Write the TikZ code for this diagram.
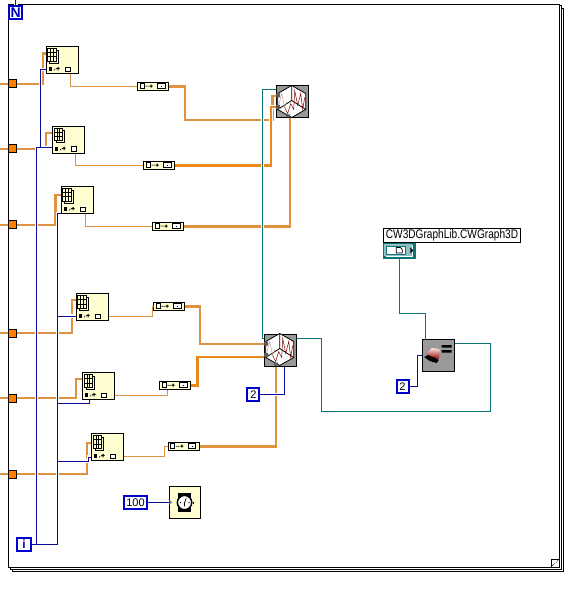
\documentclass[tikz,border=0pt]{standalone}
\usepackage{fontspec}
\setmainfont{Liberation Sans}
\newfontfamily\narrowfont[FakeStretch=0.81]{Liberation Sans}
\definecolor{cream}{HTML}{FFFFD2}
\definecolor{orangeA}{HTML}{EA8A1E}
\definecolor{orangeB}{HTML}{DF9340}
\definecolor{numblue}{HTML}{0C0C98}
\definecolor{tealw}{HTML}{0F7477}
\usetikzlibrary{arrows.meta,positioning}

\begin{document}
\begin{tikzpicture}[
  x=1pt,y=-1pt,
  font=\fontsize{11}{11}\selectfont,
  cell/.style={draw,line width=1pt,fill=cream,minimum width=32pt,minimum height=26.5pt,inner sep=0pt},
  conv/.style={draw,line width=1pt,fill=cream,minimum width=31pt,minimum height=8.5pt,inner sep=0pt},
  tun/.style={draw,line width=1pt,fill=orange,minimum size=8pt,inner sep=0pt},
  const/.style={draw=blue!80!black,line width=2pt,fill=white,inner sep=0pt,minimum height=13.5pt},
  gicon/.style={draw,line width=1pt,fill=gray!80,minimum size=32pt,inner sep=0pt},
  frameln/.style={line width=1pt},
  fat/.style={orangeB,line width=2.8pt},
  fatb/.style={orangeA,line width=2.8pt},
  thinw/.style={orangeB,line width=1pt},
  tealwire/.style={tealw,line width=1pt,preaction={draw=white,line width=3.5pt}},
  bluewire/.style={numblue,line width=1pt,preaction={draw=white,line width=3.5pt}},
  pics/gridicon/.style={code={
    \draw[line width=.7pt,fill=cream] (4.3,4) rectangle (13,16.5);
    \draw[line width=.7pt,fill=cream] (2.3,2) rectangle (11,14.5);
    \draw[line width=.7pt] (2.3,6.2)--(11,6.2) (2.3,10.4)--(11,10.4) (5.2,2)--(5.2,14.5) (8.1,2)--(8.1,14.5);
    \fill (3,21) rectangle (6.5,24.5);
    \fill (8.3,23) rectangle +(1,1) (10.2,22) rectangle +(1,1) (12,20.5) rectangle +(1,3.5) (11,21.5) rectangle +(3,1);
    \draw[line width=.8pt,fill=white] (20,20.5) rectangle (24.5,25);
  }},
  pics/convicon/.style={code={
    \draw[line width=.8pt,fill=white] (3,2) rectangle (7,6.5);
    \fill (8.6,4) rectangle +(1,1) (10.6,4) rectangle +(1,1) (12.5,3.9) rectangle +(3,1) (13.5,2.9) rectangle +(1,3);
    \draw[line width=.8pt,fill=white] (20.5,2) rectangle (28,6.5);
    \fill (23.8,3.8) rectangle +(1,1);
  }},
  pics/graphicon/.style={code={
    \draw[line width=.8pt,fill=white] (16,0)--(30,8)--(30,24)--(16,32)--(2,24)--(2,8)--cycle;
    \draw[line width=.8pt] (16,0)--(16,15) (2,24)--(16,15)--(30,24);
    \draw[line width=.5pt,red!30!gray!60] (3,20)--(6,8)--(9,22)--(11,16);
    \draw[line width=.5pt,red!50!black] (9,22)--(12,28)--(15,18)--(18,24)--(19,5)--(22,20)--(25,8)--(27,24)--(29,12);
    \fill[gray!70!black] (0.5,8) rectangle +(4,4) (0.5,19.5) rectangle +(4,4) (10.5,29) rectangle +(4,3);
  }},
  pics/watchicon/.style={code={
    \fill (9,6.5) rectangle (22.5,26);
    \draw[line width=1.5pt,fill=white] (15.8,16.3) circle (7.2);
    \fill (24,15.3) rectangle +(1.6,2);
    \fill[gray] (0.5,13.5)--(3.5,16)--(0.5,18.5)--cycle;
    \draw[line width=.7pt] (15.8,16.3)--(17.5,12) (15.8,16.3)--(15.8,20);
    \fill (11,15.8) rectangle +(1,1) (19.8,15.8) rectangle +(1,1);
  }},
  pics/bookicon/.style={code={
    \fill[black] (2.5,18)--(8,22)--(15,24)--(17,21)--(8,15)--cycle;
    \shade[top color=red!10,bottom color=red!60!black] (5,15)--(10,9)--(17,10)--(21,15)--(18,13.5)--(17,20)--(9,17)--cycle;
    \fill (20,6) rectangle (30,8.5) (20,11) rectangle (30,13.5);
  }},
  pics/refnumicon/.style={code={
    \fill[tealw!45!white] (1,1) rectangle (29,13);
    \draw[tealw,line width=1pt,fill=white] (3,3.7) rectangle (22,12.3);
    \draw[line width=.7pt,fill=white] (13,5) -- (17,5) -- (19,7) -- (19,10.5) -- (13,10.5) -- cycle;
    \fill (27,5)--(30,8)--(27,11)--cycle;
  }}
]
\useasboundingbox (0,0) rectangle (577,609);

% frame
\draw[frameln] (8.5,5) rectangle (559.5,567);
\draw[frameln] (10,567)--(10,569)--(561,569)--(561,6)--(559.5,6);
\draw[frameln] (12.5,569)--(12.5,571)--(563.5,571)--(563.5,9)--(561,9);
\draw[frameln] (551,567)--(551,559)--(559.5,559);
\draw[line width=.7pt,densely dotted] (551,567)--(559.5,559);

\node[const,minimum width=13pt,minimum height=13pt,font=\bfseries\fontsize{14}{14}\selectfont,text=blue!70!black] (nbox) at (15.8,12.5) {N};
\coordinate (ntop) at (15.8,0);
\node[const,minimum width=14pt,minimum height=13pt,font=\bfseries\fontsize{12}{12}\selectfont,text=blue!70!black] (ibox) at (24,544) {i};

% tunnels
\node[tun] (tun1) at (12.6,84) {};
\node[tun] (tun2) at (12.6,149) {};
\node[tun] (tun3) at (12.6,225) {};
\node[tun] (tun4) at (12.6,333) {};
\node[tun] (tun5) at (12.6,398) {};
\node[tun] (tun6) at (12.6,474) {};
\coordinate (in1) at (0,84);
\coordinate (in2) at (0,149);
\coordinate (in3) at (0,225);
\coordinate (in4) at (0,333);
\coordinate (in5) at (0,398);
\coordinate (in6) at (0,474);

% array subset
\node[cell] (cell1) at (62,60.2) {};
\node[cell] (cell2) at (68.2,139.8) {};
\node[cell] (cell3) at (77,200.2) {};
\node[cell] (cell4) at (92,307.2) {};
\node[cell] (cell5) at (98.2,386.2) {};
\node[cell] (cell6) at (107.2,447.2) {};
\pic at (cell1.north west) {gridicon};
\pic at (cell2.north west) {gridicon};
\pic at (cell3.north west) {gridicon};
\pic at (cell4.north west) {gridicon};
\pic at (cell5.north west) {gridicon};
\pic at (cell6.north west) {gridicon};

% conversion
\node[conv] (conv1) at (153,86.5) {};
\node[conv] (conv2) at (159,165.5) {};
\node[conv] (conv3) at (168,226.5) {};
\node[conv] (conv4) at (169,306.5) {};
\node[conv] (conv5) at (175,385.5) {};
\node[conv] (conv6) at (183.8,446.5) {};
\pic at (conv1.north west) {convicon};
\pic at (conv2.north west) {convicon};
\pic at (conv3.north west) {convicon};
\pic at (conv4.north west) {convicon};
\pic at (conv5.north west) {convicon};
\pic at (conv6.north west) {convicon};

% graphs
\node[gicon] (grapha) at (292.2,102) {};
\node[gicon] (graphb) at (280.2,350) {};
\pic at (grapha.north west) {graphicon};
\pic at (graphb.north west) {graphicon};

% constants, timer, property node
\node[const,minimum width=12pt] (twob) at (253.4,394.5) {2};
\node[const,minimum width=12pt] (twoc) at (402.5,386.5) {2};
\node[const,minimum width=23pt] (hundred) at (135.5,502.5) {100};
\node[draw,line width=1pt,fill=cream,minimum size=31.5pt,inner sep=0pt] (timer) at (185,502.5) {};
\pic at (timer.north west) {watchicon};
\node[draw,line width=1pt,fill=gray!80,minimum size=32pt,inner sep=0pt] (propnode) at (438.2,355.5) {};
\pic at (propnode.north west) {bookicon};
\node[draw,line width=1pt,fill=white,inner sep=0pt,minimum width=137pt,minimum height=14pt,font=\narrowfont\fontsize{12.5}{12.5}\selectfont] (reflabel) at (452,235.5) {CW3DGraphLib.CWGraph3D};
\node[draw=tealw,line width=2.4pt,minimum width=30pt,minimum height=14pt,inner sep=0pt] (refnum) at (399.5,250.7) {};
\pic at (refnum.north west) {refnumicon};

% orange wires
\draw[fat] (in1)--(tun1.west) (in2)--(tun2.west) (in3)--(tun3.west) (in4)--(tun4.west) (in5)--(tun5.west) (in6)--(tun6.west);
\draw[fat] (tun1.east) -| (43,53.5) -- (cell1.west |- 43,53.5);
\draw[fat] (tun2.east) -| (46,133) -- (cell2.west |- 46,133);
\draw[fat] (tun3.east) -| (55.5,195) -- (cell3.west |- 55.5,195);
\draw[fat] (tun4.east) -| (72,300) -- (cell4.west |- 72,300);
\draw[fat] (tun5.east) -| (76,379) -- (cell5.west |- 76,379);
\draw[fat] (tun6.east) -| (87,443) -- (cell6.west |- 87,443);

\draw[thinw] ([xshift=24.5]cell1.south west) |- (conv1.west);
\draw[thinw] ([xshift=23.5]cell2.south west) |- (conv2.west);
\draw[thinw] ([xshift=24.5]cell3.south west) |- (conv3.west);
\draw[thinw] (cell4.east |- 108,316.5) -| (152.5,306.5) -- (conv4.west);
\draw[thinw] (cell5.east |- 114,395.5) -| (conv5.south -| 167.5,390);
\draw[thinw] (cell6.east |- 123,456.5) -| (164.5,446.5) -- (conv6.west);

\draw[fat] (conv1.east) -| (185,120) -- (272.5,120) |- (grapha.west |- 272.5,96);
\draw[fatb,preaction={draw=white,line width=3.5pt}] (conv2.east) -| (271,107) -- (grapha.west |- 271,107);
\draw[fat] (conv3.east) -| ([xshift=-2.2]grapha.south);
\draw[fat] (conv4.east) -| (200,344) -- (graphb.west |- 200,344);
\draw[fatb] (conv5.east) -| (197.5,357) -- (graphb.west |- 197.5,357);
\draw[fat] (conv6.east) -| ([xshift=-4.2]graphb.south);

% refnum wires
\draw[tealwire] ([yshift=-4.5]grapha.north west) -| (262.5,338.5) -- (graphb.west |- 262.5,338.5);
\draw[tealw,line width=1pt] (graphb.east |- 296,338.5) -| (321.5,411.5) -| (490.5,343.5) -- (propnode.east |- 490.5,343.5);
\draw[tealw,line width=1pt] (refnum.south) |- (425.5,313.5) -- (425.5,339.5);

% numeric wires
\draw[bluewire] (ntop)--(nbox.north)
  (ibox.east) -- (57.5,544) |- (cell3.south west)
  (36.5,544) |- (cell2.west |- 36.5,148)
  (40.5,148) |- (cell1.west |- 40.5,69.5)
  (57.5,316) -- (cell4.west |- 57.5,316)
  (57.5,403) -| ([xshift=8.2]cell5.south west)
  (57.5,461) -| (88.5,457) -- (cell6.west |- 88.5,457);
\draw[bluewire] (twob.east) -| ([xshift=4.3]graphb.south);
\draw[numblue,line width=1pt] (twoc.east) -| (417.5,355.5) -- (propnode.west);
\draw[numblue,line width=1pt] (hundred.east) -- (timer.west);
\end{tikzpicture}
\end{document}
